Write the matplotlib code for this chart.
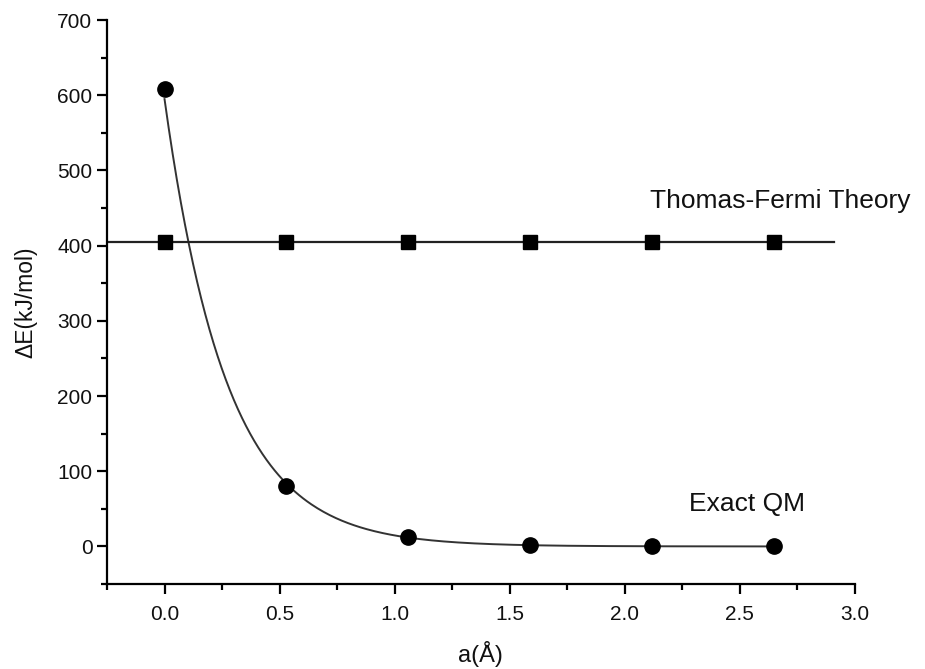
import matplotlib.pyplot as plt
import numpy as np

plt.rcParams['font.family'] = ['Liberation Sans', 'DejaVu Sans']

# Exact QM points
a_qm = [0.0, 0.53, 1.06, 1.59, 2.12, 2.65]
e_qm = [608, 80, 12, 2, 0, 0]

# Thomas-Fermi points (constant)
a_tf = [0.0, 0.53, 1.06, 1.59, 2.12, 2.65]
e_tf = [405, 405, 405, 405, 405, 405]
tf_line_x = [-0.25, 2.91]

# exponential fit through the first three QM points for the smooth curve
coef = np.polyfit(a_qm[:3], np.log(e_qm[:3]), 1)
xs = np.linspace(a_qm[0], a_qm[-1], 300)
ys = np.exp(coef[1] + coef[0] * xs)

fig = plt.figure(figsize=(9.25, 6.69), dpi=100)
ax = fig.add_axes([0.1157, 0.127, 0.8083, 0.843])

ax.plot(xs, ys, color='#333333', lw=1.4)
ax.plot(a_qm, e_qm, 'o', color='black', markersize=11)
ax.plot(tf_line_x, [e_tf[0]] * 2, color='#222222', lw=1.6)
ax.plot(a_tf, e_tf, 's', color='black', markersize=9.5)

ax.text(2.11, 460, 'Thomas-Fermi Theory', fontsize=19, va='center', color='#111111')
ax.text(2.28, 57, 'Exact QM', fontsize=19, va='center', color='#111111')

ax.set_xlim(-0.25, 3.0)
ax.set_ylim(-50, 700)
ax.set_xticks(np.arange(0, 3.01, 0.5))
ax.set_xticks(np.arange(-0.25, 3.0, 0.5), minor=True)
ax.set_yticks(np.arange(0, 701, 100))
ax.set_yticks(np.arange(-50, 700, 100), minor=True)
ax.set_xticklabels([f'{v:.1f}' for v in np.arange(0, 3.01, 0.5)])

for s in ['top', 'right']:
    ax.spines[s].set_visible(False)
for s in ['left', 'bottom']:
    ax.spines[s].set_linewidth(1.6)
ax.tick_params(which='major', length=7, width=1.6, labelsize=15,
               direction='out', labelcolor='#111111')
ax.tick_params(which='minor', length=4, width=1.6, direction='out')
ax.tick_params(axis='x', pad=8)

ax.set_xlabel('a(Å)', fontsize=17, labelpad=12, color='#111111')
ax.set_ylabel('ΔE(kJ/mol)', fontsize=16.5, labelpad=14, color='#111111')

fig.savefig('out.png', dpi=100)
